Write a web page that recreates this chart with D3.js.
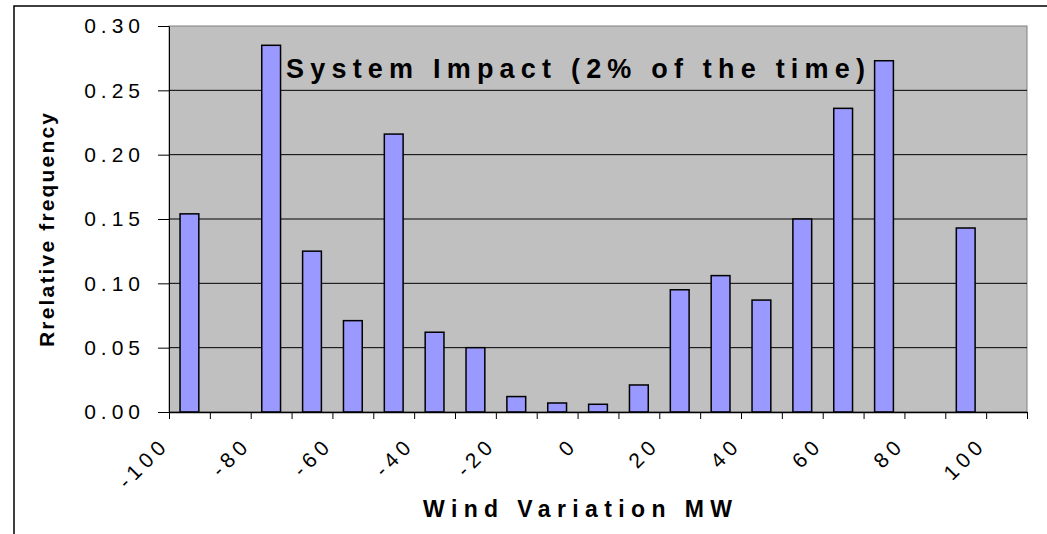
<!DOCTYPE html>
<html>
<head>
<meta charset="utf-8">
<script src="https://cdn.jsdelivr.net/npm/d3@7"></script>
<style>
    body { margin: 0; background: #fff; }
    svg { display: block; font-family: "Liberation Sans", Arial, sans-serif; }
</style>
</head>
<body>
<div id="container"></div>
<script>
// bins of wind variation (MW), left edge of each bin
const bins = [-100, -90, -80, -70, -60, -50, -40, -30, -20, -10, 0, 10, 20, 30, 40, 50, 60, 70, 80, 90, 100]
const freq = [0.154, 0, 0.285, 0.125, 0.071, 0.216, 0.062, 0.050, 0.012, 0.007, 0.006, 0.021, 0.095, 0.106, 0.087, 0.150, 0.236, 0.273, 0, 0.143, 0]
const xLabels = [-100, -80, -60, -40, -20, 0, 20, 40, 60, 80, 100]
const yTicks = [0, 0.05, 0.10, 0.15, 0.20, 0.25, 0.30]

const w = 1047
const h = 534
const plotL = 169, plotR = 1027, plotT = 26, plotB = 412

const x = d3.scaleLinear().domain([-100, 110]).range([plotL, plotR])
const y = d3.scaleLinear().domain([0, 0.30]).range([plotB, plotT])

const svg = d3.select("#container")
    .append("svg")
    .attr("width", w)
    .attr("height", h)

// outer chart frame (runs off the picture on right / bottom)
svg.append("rect")
    .attr("x", 14).attr("y", 6)
    .attr("width", 1100).attr("height", 600)
    .attr("fill", "#fff")
    .attr("stroke", "#000")
    .attr("stroke-width", 1.5)

// plot area
svg.append("rect")
    .attr("x", plotL).attr("y", plotT)
    .attr("width", plotR - plotL).attr("height", plotB - plotT)
    .attr("fill", "#c0c0c0")
    .attr("stroke", "#808080")
    .attr("stroke-width", 1)

// grid lines
svg.append("g")
    .selectAll("line")
    .data(yTicks.filter(d => d > 0 && d < 0.30))
    .enter()
    .append("line")
    .attr("x1", plotL).attr("x2", plotR)
    .attr("y1", d => y(d)).attr("y2", d => y(d))
    .attr("stroke", "#000")
    .attr("stroke-width", 1)

// bars
const binW = x(10) - x(0)
const barW = binW * 0.46
svg.append("g")
    .selectAll("rect")
    .data(bins.map((b, i) => [b, freq[i]]).filter(d => d[1] > 0))
    .enter()
    .append("rect")
    .attr("x", d => x(d[0] + 5) - barW / 2)
    .attr("y", d => y(d[1]))
    .attr("width", barW)
    .attr("height", d => plotB - y(d[1]))
    .attr("fill", "#9999ff")
    .attr("stroke", "#000")
    .attr("stroke-width", 1.5)

// y axis
const yAxis = d3.axisLeft(y)
    .tickValues(yTicks)
    .tickFormat(d3.format(".2f"))
    .tickSize(11)
    .tickSizeOuter(0)
    .tickPadding(13)

const gy = svg.append("g")
    .attr("transform", `translate(${plotL}, 0)`)
    .call(yAxis)
gy.select(".domain").attr("stroke", "#000")
gy.selectAll(".tick line").attr("stroke", "#000")
gy.selectAll("text")
    .attr("fill", "#000")
    .style("font-size", "21px")
    .style("letter-spacing", "5px")

// x axis, tick at every bin edge, labels every 20
const xAxis = d3.axisBottom(x)
    .tickValues(bins.concat([110]))
    .tickFormat(d => xLabels.includes(d) ? d : "")
    .tickSize(7)
    .tickSizeOuter(0)

const gx = svg.append("g")
    .attr("transform", `translate(0, ${plotB})`)
    .call(xAxis)
gx.select(".domain").attr("stroke", "#000").attr("stroke-width", 1.5)
gx.selectAll(".tick line").attr("stroke", "#000")
gx.selectAll("text")
    .attr("fill", "#000")
    .attr("x", 0).attr("y", 0).attr("dy", 0)
    .attr("text-anchor", "end")
    .attr("transform", "translate(1, 34) rotate(-45)")
    .style("font-size", "21px")
    .style("letter-spacing", "5px")

// titles
svg.append("text")
    .attr("x", 286).attr("y", 78)
    .attr("textLength", 579)
    .attr("lengthAdjust", "spacing")
    .style("font-size", "27px")
    .style("font-weight", "bold")
    .text("System Impact (2% of the time)")

svg.append("text")
    .attr("x", 423).attr("y", 517)
    .attr("textLength", 309)
    .attr("lengthAdjust", "spacing")
    .style("font-size", "23px")
    .style("font-weight", "bold")
    .text("Wind Variation MW")

svg.append("text")
    .attr("transform", "translate(54, 230) rotate(-90)")
    .attr("text-anchor", "middle")
    .attr("textLength", 234)
    .attr("lengthAdjust", "spacing")
    .style("font-size", "21px")
    .style("font-weight", "bold")
    .text("Rrelative frequency")
</script>
</body>
</html>
